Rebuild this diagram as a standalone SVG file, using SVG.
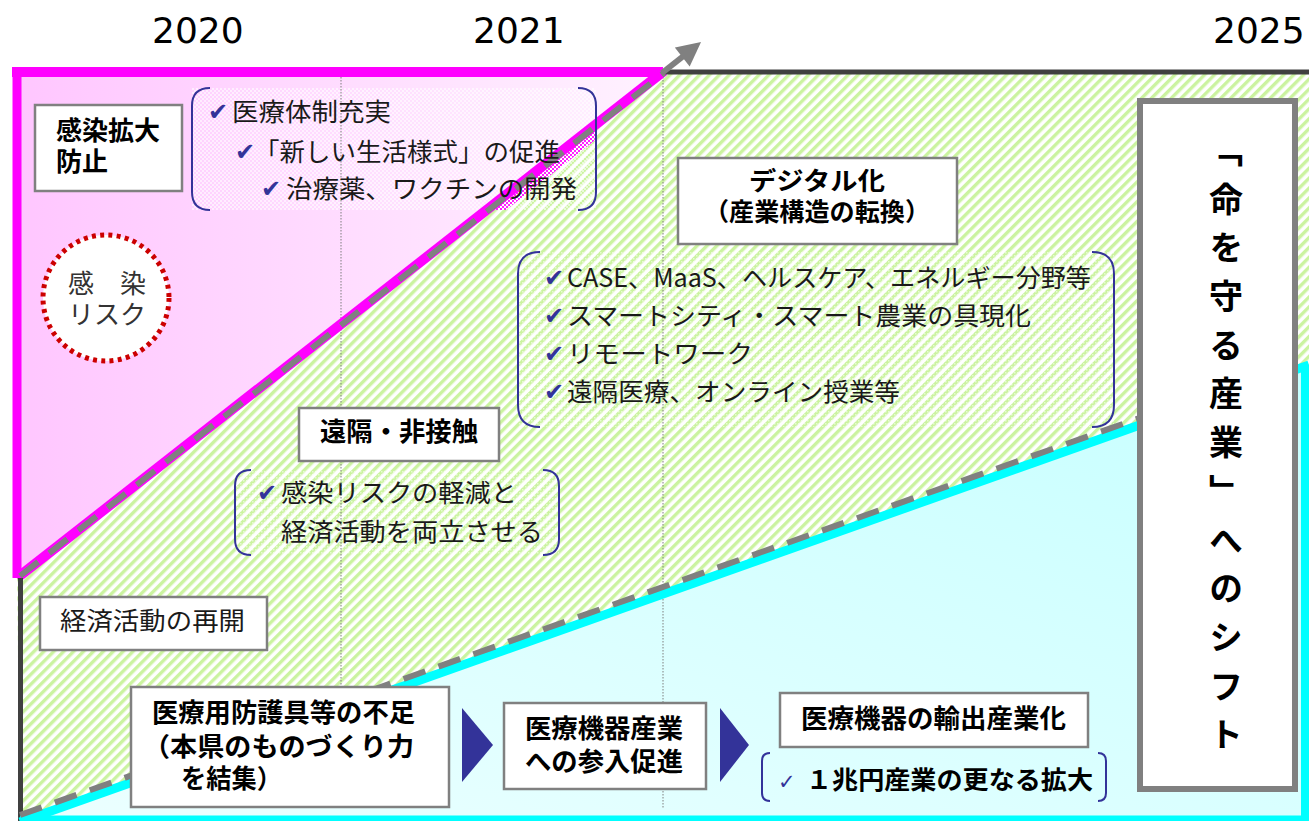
<svg xmlns="http://www.w3.org/2000/svg" width="1309" height="821" viewBox="0 0 1309 821">
<style>
.jp{font-family:"Noto Sans CJK JP","Noto Sans CJK SC",sans-serif;fill:#1a1a1a}
.b{font-weight:bold;fill:#000}
.n{font-size:25px}
.bx{fill:#fff;stroke:#808080;stroke-width:2.5}
.br{fill:none;stroke:#333399;stroke-width:2}
.ck{font-family:"DejaVu Sans",sans-serif;font-size:24px;fill:#333399}
.yr{font-family:"DejaVu Sans",sans-serif;font-size:36px;fill:#000}
.vdot{stroke:#7f7f7f;stroke-width:1;stroke-dasharray:1.5 1.5}
.dash{stroke:#808080;stroke-width:6;fill:none;stroke-dasharray:23 14}
</style>
<defs>
<linearGradient id="pinkG" x1="0" y1="0" x2="1" y2="0"><stop offset="0" stop-color="#ffc6ff"/><stop offset="1" stop-color="#fff2ff"/></linearGradient>
<linearGradient id="cyanG" x1="0" y1="1" x2="1" y2="0"><stop offset="0" stop-color="#ecffff"/><stop offset="1" stop-color="#c6ffff"/></linearGradient>
<pattern id="hatch" width="7" height="7" patternUnits="userSpaceOnUse" patternTransform="rotate(45)"><rect width="7" height="7" fill="#fff"/><rect width="3.4" height="7" fill="#cbf3a0"/></pattern>
<pattern id="dots" width="3" height="3" patternUnits="userSpaceOnUse"><rect width="1.5" height="1.5" fill="#fff" fill-opacity="0.55"/></pattern>
<pattern id="chk" width="4" height="4" patternUnits="userSpaceOnUse"><rect width="2" height="2" fill="#fff" fill-opacity="0.6"/><rect x="2" y="2" width="2" height="2" fill="#fff" fill-opacity="0.6"/></pattern>
<pattern id="mchk" width="4" height="4" patternUnits="userSpaceOnUse"><rect width="4" height="4" fill="#fff"/><rect width="2" height="2" fill="#ff22ff"/><rect x="2" y="2" width="2" height="2" fill="#ff22ff"/></pattern>
<clipPath id="br1clip"><rect x="192" y="88" width="404" height="122"/></clipPath>
<marker id="ah" viewBox="0 0 10 10" refX="2" refY="5" markerWidth="4.2" markerHeight="4" orient="auto"><path d="M0,0 L10,5 L0,10 z" fill="#808080"/></marker>
</defs>

<g id="background">
<polygon points="17,72 663,72 17,578" fill="url(#pinkG)"/>
<polygon points="17,578 663,72 1309,72 1309,366 20,822" fill="url(#hatch)"/>
<polygon points="20,822 1309,365 1309,821 20,821" fill="url(#cyanG)"/>
<rect x="192" y="88" width="404" height="122" fill="url(#chk)"/>
<polygon points="492,210 506,210 636,108 622,108" fill="url(#mchk)" clip-path="url(#br1clip)"/>
<rect x="518" y="252" width="596" height="175" fill="url(#dots)"/>
<rect x="235" y="470" width="324" height="85" fill="url(#dots)"/>
<line class="vdot" x1="341" y1="74" x2="341" y2="808"/>
<line class="vdot" x1="663" y1="74" x2="663" y2="808"/>
<line x1="12" y1="72" x2="663" y2="72" stroke="#ff00ff" stroke-width="10"/>
<line x1="17" y1="67" x2="17" y2="578" stroke="#ff00ff" stroke-width="9"/>
<line x1="17" y1="578" x2="664" y2="71" stroke="#ff00ff" stroke-width="10"/>
<line x1="663" y1="72" x2="1309" y2="72" stroke="#404040" stroke-width="5"/>
<line x1="20.5" y1="578" x2="20.5" y2="821" stroke="#404040" stroke-width="5"/>
<line x1="20" y1="822" x2="1309" y2="365" stroke="#00ffff" stroke-width="9"/>
<line x1="20" y1="818.5" x2="1309" y2="818.5" stroke="#00ffff" stroke-width="6"/>
<line x1="1305" y1="366" x2="1305" y2="821" stroke="#00ffff" stroke-width="8"/>
</g>

<g id="connectors">
<line class="dash" x1="20" y1="576" x2="664" y2="73"/>
<line x1="662" y1="73" x2="686" y2="54" stroke="#808080" stroke-width="6" marker-end="url(#ah)"/>
<line class="dash" x1="20" y1="815" x2="1306" y2="359"/>
<polygon points="462,708 462,782 493,745" fill="#333399"/>
<polygon points="720,708 720,782 749,745" fill="#333399"/>
</g>

<g id="years">
<text class="yr" x="152" y="43">2020</text>
<text class="yr" x="473" y="43">2021</text>
<text class="yr" x="1213" y="43">2025</text>
</g>

<g id="node-kansen-kakudai">
<rect class="bx" x="35" y="105" width="147" height="86"/>
<text class="jp b" font-size="26" x="56" y="140" textLength="104" lengthAdjust="spacingAndGlyphs">感染拡大</text>
<text class="jp b" font-size="26" x="56" y="171" textLength="52" lengthAdjust="spacingAndGlyphs">防止</text>
</g>

<g id="node-iryo-list">
<path class="br" d="M210,88 Q192,88 192,106 L192,192 Q192,210 210,210"/>
<path class="br" d="M578,88 Q596,88 596,106 L596,192 Q596,210 578,210"/>
<text class="ck" x="208" y="120">✔</text>
<text class="jp n" x="232" y="121" textLength="159" lengthAdjust="spacingAndGlyphs">医療体制充実</text>
<text class="ck" x="235" y="160">✔</text>
<text class="jp n" x="254" y="161" textLength="306" lengthAdjust="spacingAndGlyphs">「新しい生活様式」の促進</text>
<text class="ck" x="261" y="197">✔</text>
<text class="jp n" x="286" y="198" textLength="291" lengthAdjust="spacingAndGlyphs">治療薬、ワクチンの開発</text>
</g>

<g id="node-risk">
<circle cx="106" cy="298" r="63" fill="#fff" stroke="#cc0000" stroke-width="5" stroke-dasharray="4 4.3"/>
<text class="jp" font-size="26" x="107" y="293" text-anchor="middle" style="fill:#333">感　染</text>
<text class="jp" font-size="26" x="107" y="324" text-anchor="middle" style="fill:#333">リスク</text>
</g>

<g id="node-digital">
<rect class="bx" x="678" y="158" width="279" height="86"/>
<text class="jp b" font-size="25" x="817" y="190" text-anchor="middle" textLength="136" lengthAdjust="spacingAndGlyphs">デジタル化</text>
<text class="jp b" font-size="25" x="817" y="221" text-anchor="middle" textLength="226" lengthAdjust="spacingAndGlyphs">（産業構造の転換）</text>
</g>

<g id="node-digital-list">
<path class="br" d="M540,252 Q518,252 518,274 L518,405 Q518,427 540,427"/>
<path class="br" d="M1092,252 Q1114,252 1114,274 L1114,405 Q1114,427 1092,427"/>
<text class="ck" x="544" y="286">✔</text>
<text class="jp n" x="567" y="287" textLength="524" lengthAdjust="spacingAndGlyphs">CASE、MaaS、ヘルスケア、エネルギー分野等</text>
<text class="ck" x="544" y="324">✔</text>
<text class="jp n" x="567" y="325" textLength="464" lengthAdjust="spacingAndGlyphs">スマートシティ・スマート農業の具現化</text>
<text class="ck" x="544" y="362">✔</text>
<text class="jp n" x="567" y="363" textLength="186" lengthAdjust="spacingAndGlyphs">リモートワーク</text>
<text class="ck" x="544" y="400">✔</text>
<text class="jp n" x="567" y="401" textLength="333" lengthAdjust="spacingAndGlyphs">遠隔医療、オンライン授業等</text>
</g>

<g id="node-enkaku">
<rect class="bx" x="299" y="408" width="200" height="53"/>
<text class="jp b" font-size="26" x="399" y="441" text-anchor="middle" textLength="158" lengthAdjust="spacingAndGlyphs">遠隔・非接触</text>
</g>

<g id="node-enkaku-list">
<path class="br" d="M251,470 Q235,470 235,486 L235,539 Q235,555 251,555"/>
<path class="br" d="M543,470 Q559,470 559,486 L559,539 Q559,555 543,555"/>
<text class="ck" x="257" y="501">✔</text>
<text class="jp n" x="281" y="502" textLength="236" lengthAdjust="spacingAndGlyphs">感染リスクの軽減と</text>
<text class="jp n" x="281" y="541" textLength="262" lengthAdjust="spacingAndGlyphs">経済活動を両立させる</text>
</g>

<g id="node-keizai">
<rect class="bx" x="40" y="597" width="227" height="53"/>
<text class="jp n" x="60" y="630" textLength="185" lengthAdjust="spacingAndGlyphs">経済活動の再開</text>
</g>

<g id="node-bougo">
<rect class="bx" x="131" y="687" width="318" height="120"/>
<text class="jp b" font-size="26" x="152" y="722" textLength="263" lengthAdjust="spacingAndGlyphs">医療用防護具等の不足</text>
<text class="jp b" font-size="26" x="143" y="756" textLength="271" lengthAdjust="spacingAndGlyphs">（本県のものづくり力</text>
<text class="jp b" font-size="26" x="181" y="788" textLength="101" lengthAdjust="spacingAndGlyphs">を結集）</text>
</g>

<g id="node-sannyu">
<rect class="bx" x="504" y="703" width="202" height="86"/>
<text class="jp b" font-size="26" x="525" y="738" textLength="158" lengthAdjust="spacingAndGlyphs">医療機器産業</text>
<text class="jp b" font-size="26" x="525" y="771" textLength="158" lengthAdjust="spacingAndGlyphs">への参入促進</text>
</g>

<g id="node-yushutsu">
<rect class="bx" x="780" y="693" width="308" height="54"/>
<text class="jp b" font-size="26" x="801" y="728" textLength="265" lengthAdjust="spacingAndGlyphs">医療機器の輸出産業化</text>
</g>

<g id="node-icchoen">
<path class="br" d="M770,753 Q762,753 762,761 L762,793 Q762,801 770,801"/>
<path class="br" d="M1098,753 Q1106,753 1106,761 L1106,793 Q1106,801 1098,801"/>
<text class="ck" x="778" y="789" style="font-size:21px">✓</text>
<text class="jp b" font-size="25" x="806" y="789" textLength="287" lengthAdjust="spacingAndGlyphs">１兆円産業の更なる拡大</text>
</g>

<g id="node-shift">
<rect x="1140" y="101" width="155" height="688" fill="#fff" stroke="#808080" stroke-width="6"/>
<text class="jp b" font-size="34" x="1226" y="133" writing-mode="vertical-rl" letter-spacing="14.7">「命を守る産業」へのシフト</text>
</g>
</svg>
